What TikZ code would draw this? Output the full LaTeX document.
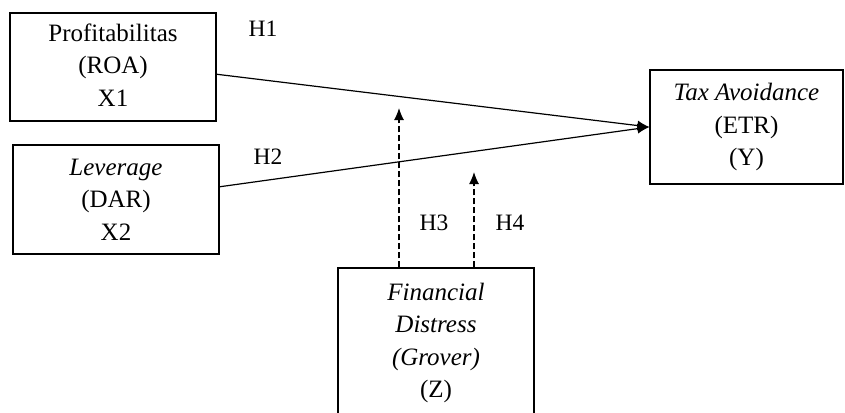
\documentclass[tikz,border=0pt]{standalone}
\usepackage{fontspec}
\setmainfont{Liberation Serif}
\usetikzlibrary{arrows.meta}
\begin{document}
\begin{tikzpicture}[x=1pt,y=-1pt,
  box/.style={draw, line width=1.2pt, align=center, inner sep=0pt,
    font=\fontsize{25}{32.5}\selectfont},
  hlab/.style={font=\fontsize{23.5}{28}\selectfont, inner sep=0pt},
  link/.style={line width=1.2pt, -{Latex[length=12pt,width=10pt]}},
  modlink/.style={line width=1.2pt, dash pattern=on 6pt off 3pt, -{Latex[length=12pt,width=10pt]}}]
\clip (0,0) rectangle (845,412);
\node[box, minimum width=206pt, minimum height=108pt] (x1) at (113,67)
  {\raisebox{-6pt}{\begin{tabular}{@{}c@{}}Profitabilitas\\(ROA)\\X1\end{tabular}}};
\node[box, minimum width=206pt, minimum height=109pt] (x2) at (116,199.5)
  {\textit{Leverage}\\(DAR)\\X2};
\node[box, minimum width=193pt, minimum height=114pt] (y) at (746.5,127)
  {\textit{Tax Avoidance}\\(ETR)\\(Y)};
\node[box, minimum width=196pt, minimum height=150pt] (z) at (436,343)
  {\textit{Financial}\\\textit{Distress}\\\textit{(Grover)}\\(Z)};
\coordinate (m3) at (399,108);
\coordinate (m4) at (474,172);
\draw[link] (x1.-4.4) -- (y.west);
\draw[link] (x2.7.2) -- (y.west);
\draw[modlink] (z.north -| m3) -- (m3);
\draw[modlink] (z.north -| m4) -- (m4);
\node[hlab] (h1) at (263,29) {H1};
\node[hlab] (h2) at (268,157) {H2};
\node[hlab] (h3) at (434,223) {H3};
\node[hlab] (h4) at (510,223) {H4};
\end{tikzpicture}
\end{document}
